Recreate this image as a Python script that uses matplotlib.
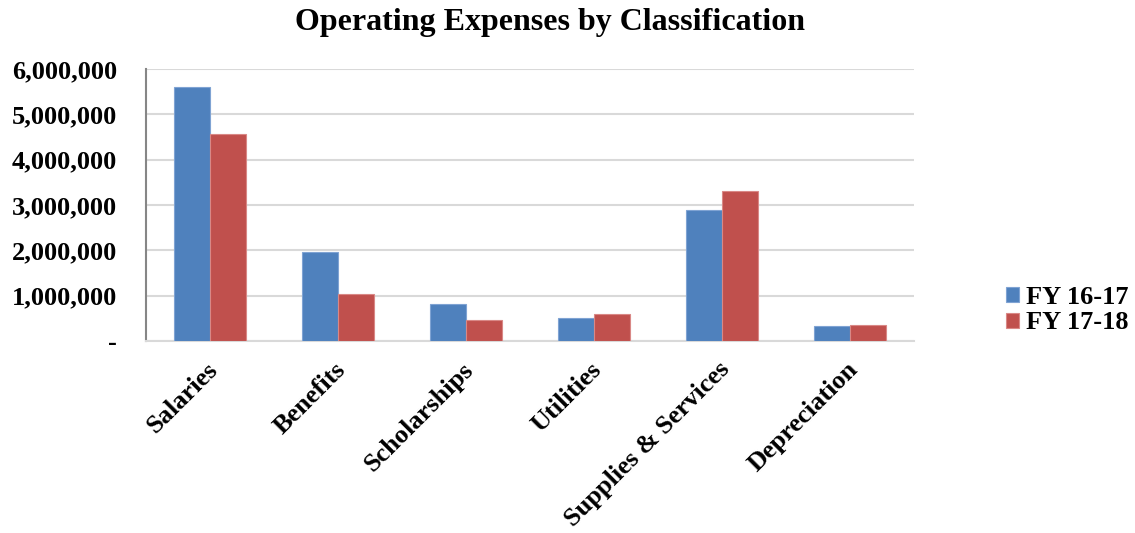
import numpy as np
import matplotlib
matplotlib.use('Agg')
import matplotlib.pyplot as plt
import matplotlib.transforms as mtransforms
from matplotlib.ticker import FuncFormatter

categories = ['Salaries', 'Benefits', 'Scholarships', 'Utilities', 'Supplies & Services', 'Depreciation']
fy1617 = [5610000, 1960000, 820000, 520000, 2900000, 330000]
fy1718 = [4570000, 1040000, 470000, 600000, 3310000, 345000]
series_names = ['FY 16-17', 'FY 17-18']

plt.rcParams['font.family'] = ['Liberation Serif', 'DejaVu Serif']
plt.rcParams['font.weight'] = 'bold'

fig = plt.figure(figsize = (11.35, 5.33), dpi = 100)
ax = fig.add_axes([0.1286, 0.360, 0.677, 0.5105])

x = np.arange(len(categories))
w = 0.28
ax.bar(x - w / 2, fy1617, width = w, color = '#4F81BD', edgecolor = '#7FA3D3', linewidth = 0.8, label = series_names[0], zorder = 3)
ax.bar(x + w / 2, fy1718, width = w, color = '#C0504D', edgecolor = '#D98886', linewidth = 0.8, label = series_names[1], zorder = 3)

ax.set_xlim(-0.5, len(categories) - 0.5)
ax.set_ylim(0, 6000000)
ax.set_yticks(np.arange(0, 6000001, 1000000))

def fmt(v, pos) :
    if v == 0 :
        return '-'
    return '{:,.0f}'.format(v)

ax.yaxis.set_major_formatter(FuncFormatter(fmt))
ax.grid(axis = 'y', color = '#d9d9d9', linewidth = 1.5, zorder = 0)

for s in ['top', 'right']:
    ax.spines[s].set_visible(False)
ax.spines['left'].set_color('#868686')
ax.spines['left'].set_linewidth(1.5)
ax.spines['bottom'].set_color('#d9d9d9')
ax.spines['bottom'].set_linewidth(1.5)

ax.tick_params(axis = 'y', length = 0, pad = 21, labelsize = 19)
ax.tick_params(axis = 'x', length = 0, pad = 12, labelsize = 19)
ax.set_xticks(x)
ax.set_xticklabels(categories, rotation = 45, ha = 'right', rotation_mode = 'anchor', fontweight = 'bold')
shift = mtransforms.ScaledTranslation(-4 / 100, 0, fig.dpi_scale_trans)
for lab in ax.get_xticklabels() :
    lab.set_transform(lab.get_transform() + shift)
for lab in ax.get_yticklabels() :
    lab.set_fontweight('bold')

fig.text(0.485, 0.957, 'Operating Expenses by Classification', ha = 'center', va = 'center', fontsize = 23, fontweight = 'bold')

leg = ax.legend(loc = 'center left', bbox_to_anchor = (1.088, 0.114), frameon = False, prop = {'size': 19, 'weight': 'bold'},
                handlelength = 0.5, handleheight = 0.5, handletextpad = 0.25, labelspacing = 0.1, borderpad = 0.4)

fig.savefig('out.png', dpi = 100)
